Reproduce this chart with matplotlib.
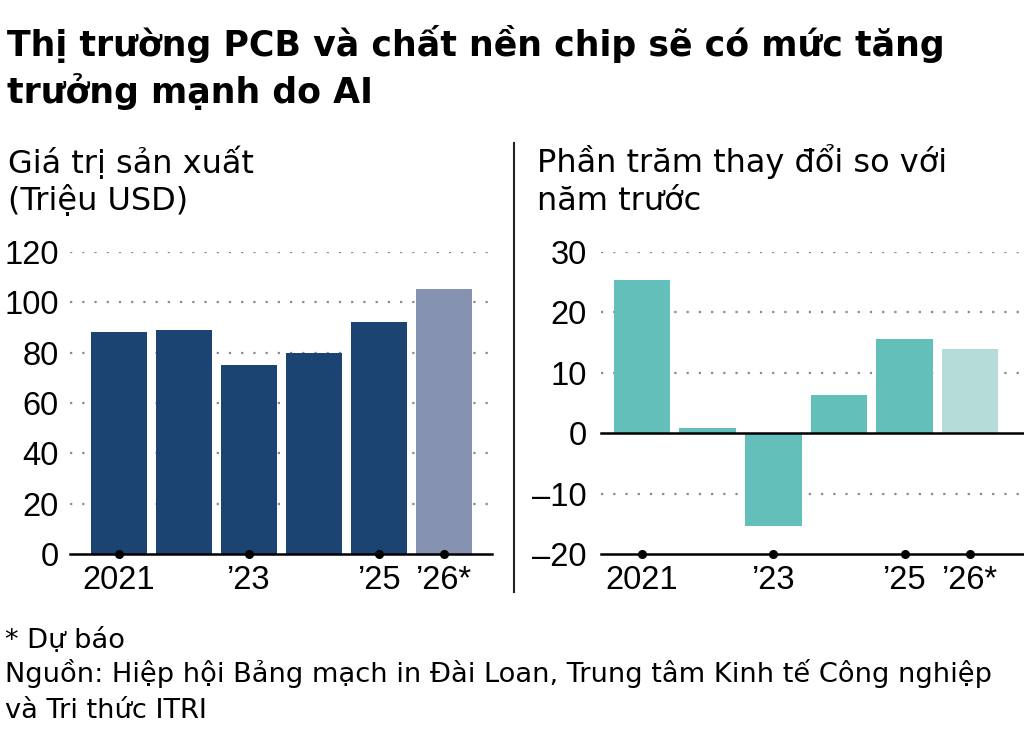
import matplotlib
matplotlib.use("Agg")
import matplotlib.pyplot as plt
from matplotlib.ticker import FuncFormatter

years = [2021, 2022, 2023, 2024, 2025, 2026]
year_labels = ["2021", "", "\u201923", "", "\u201925", "\u201926*"]
forecast = [False, False, False, False, False, True]
production = [88.2, 89.0, 75.2, 79.9, 92.3, 105.3]
yoy_change = [25.3, 0.9, -15.4, 6.3, 15.6, 14.0]
left_ticks = [0, 20, 40, 60, 80, 100, 120]
right_ticks = [-20, -10, 0, 10, 20, 30]

title_lines = ["Thị trường PCB và chất nền chip sẽ có mức tăng", "trưởng mạnh do AI"]
left_sub = ["Giá trị sản xuất", "(Triệu USD)"]
right_sub = ["Phần trăm thay đổi so với", "năm trước"]
footer_lines = ["* Dự báo",
                "Nguồn: Hiệp hội Bảng mạch in Đài Loan, Trung tâm Kinh tế Công nghiệp",
                "và Tri thức ITRI"]

TEXT_FONT = ["DejaVu Sans"]
TICK_FONT = ["Liberation Sans", "DejaVu Sans"]
plt.rcParams["font.family"] = TEXT_FONT

NAVY, NAVY_L = "#1c4472", "#8593b1"
TEAL, TEAL_L = "#63bfb9", "#b6dcda"

fig = plt.figure(figsize=(10.24, 7.30), dpi=100)
fig.patch.set_facecolor("white")

axL = fig.add_axes([70/1024, 176/730, 422/1024, 302/730])
axR = fig.add_axes([600.7/1024, 176/730, 423.3/1024, 302/730])

x = list(range(len(years)))
dash_fmt = FuncFormatter(lambda v, p: f"{int(v)}".replace("-", "\u2013"))


def style(ax, ticks, lim, xlim, pad):
    ax.set_ylim(*lim)
    ax.set_xlim(*xlim)
    ax.set_yticks(ticks)
    ax.yaxis.set_major_formatter(dash_fmt)
    for s in ax.spines.values():
        s.set_visible(False)
    ax.tick_params(axis="y", length=0, pad=pad, labelsize=23.5)
    ax.tick_params(axis="x", length=0, pad=8, labelsize=23.5)
    for t in ticks:
        if t == 0 or t == lim[0]:
            ax.axhline(t, color="black", lw=1.8, zorder=3, clip_on=False)
        else:
            ax.axhline(t, color="#8a8a8a", lw=1.6, ls=(0, (1, 4.5)), zorder=0)
    ax.set_xticks(x)
    ax.set_xticklabels(year_labels)
    for lab in ax.get_yticklabels() + ax.get_xticklabels():
        lab.set_fontfamily(TICK_FONT)
    labeled = [i for i, l in zip(x, year_labels) if l]
    ax.plot(labeled, [lim[0]] * len(labeled), "o", color="black", ms=5.5,
            clip_on=False, zorder=4)


colsL = [NAVY_L if f else NAVY for f in forecast]
colsR = [TEAL_L if f else TEAL for f in forecast]
axL.bar(x, production, width=0.86, color=colsL, zorder=2)
axR.bar(x, yoy_change, width=0.86, color=colsR, zorder=2)
style(axL, left_ticks, (0, 120), (-0.748, 5.73), 8)
style(axR, right_ticks, (-20, 30), (-0.63, 5.82), 10)


def put_lines(xpx, baselines, lines, **kw):
    for yb, s in zip(baselines, lines):
        fig.text(xpx/1024, 1 - yb/730, s, va="baseline", ha="left", **kw)


put_lines(7, [56, 103], title_lines, fontsize=25, fontweight="bold")
put_lines(8, [173, 210], left_sub, fontsize=23)
put_lines(537, [172, 210], right_sub, fontsize=23)
put_lines(5, [648, 682, 718], footer_lines, fontsize=19.6)
fig.add_artist(plt.Line2D([514/1024, 514/1024], [1 - 143/730, 1 - 592/730],
                          color="#222222", lw=1.5))

fig.savefig("out.png", dpi=100)
